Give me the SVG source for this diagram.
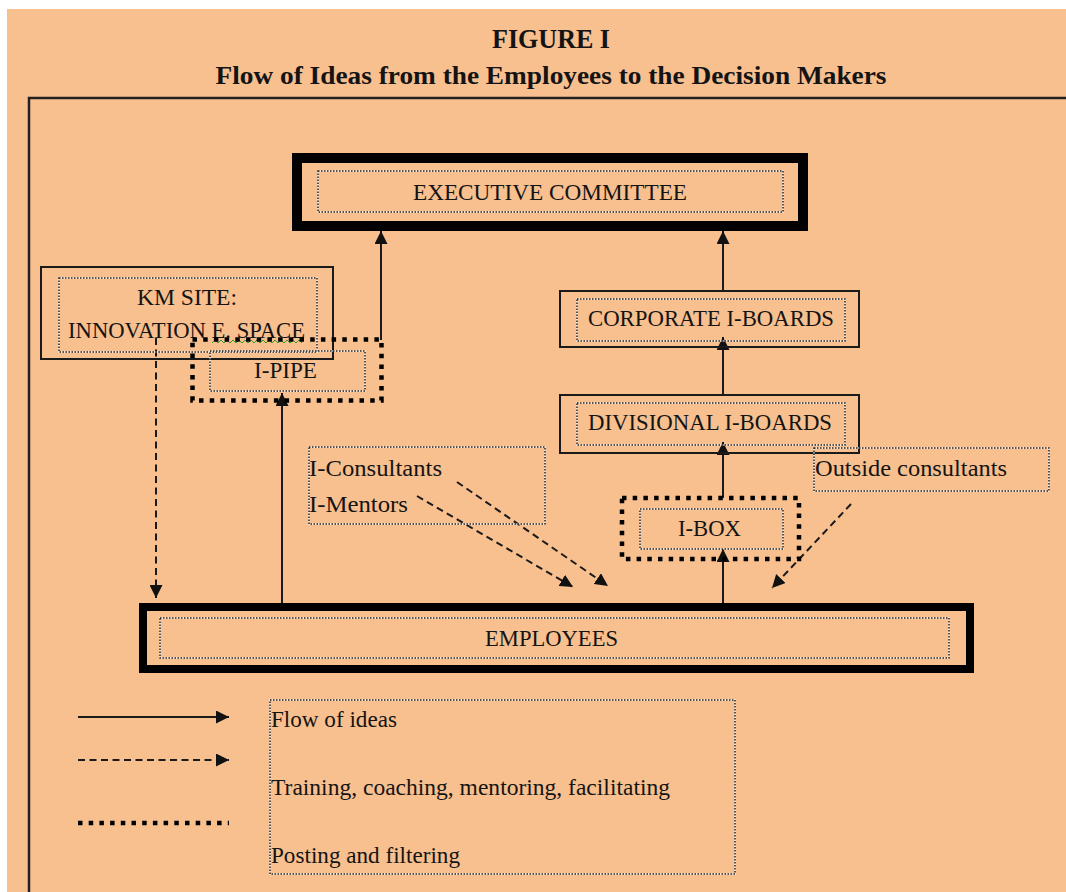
<svg xmlns="http://www.w3.org/2000/svg" width="1066" height="892" viewBox="0 0 1066 892">
<defs>
<marker id="ah" viewBox="0 0 12 12" refX="12" refY="6" markerWidth="13" markerHeight="13" orient="auto" markerUnits="userSpaceOnUse"><path d="M0,0 L12,6 L0,12 z" fill="#111"/></marker>
<style>
text{font-family:"Liberation Serif","Times New Roman",serif;fill:#141414;}
.t{font-size:23px;}
.title{font-weight:bold;}
.box{fill:none;stroke:#1a1a1a;stroke-width:2;}
.thick{fill:none;stroke:#000;}
.dotw{fill:none;stroke:#fff;stroke-width:1.5;opacity:0.7;}
.dot{fill:none;stroke:#222;stroke-width:1.5;stroke-dasharray:1.5 1.5;}
.post{fill:none;stroke:#000;stroke-width:4.5;stroke-dasharray:4.5 6.2;}
.flow{fill:none;stroke:#1a1a1a;stroke-width:2;}
.train{fill:none;stroke:#1a1a1a;stroke-width:2;stroke-dasharray:7 4.5;}
</style>
</defs>
<rect x="0" y="0" width="1066" height="892" fill="#fff"/>
<rect x="7" y="9" width="1059" height="883" fill="#F8BF8F"/>
<path d="M29,892 V98 H1066" fill="none" stroke="#222" stroke-width="2.5"/>

<g id="title">
<text class="title" x="551" y="48" font-size="27" text-anchor="middle" textLength="118" lengthAdjust="spacingAndGlyphs">FIGURE I</text>
<text class="title" x="551" y="84" font-size="26" text-anchor="middle" textLength="671" lengthAdjust="spacingAndGlyphs">Flow of Ideas from the Employees to the Decision Makers</text>
</g>

<g id="connectors">
<line class="flow" x1="381" y1="340" x2="381" y2="231" marker-end="url(#ah)"/>
<line class="flow" x1="723" y1="291" x2="723" y2="231" marker-end="url(#ah)"/>
<line class="flow" x1="723" y1="395" x2="723" y2="337" marker-end="url(#ah)"/>
<line class="flow" x1="723" y1="498" x2="723" y2="442" marker-end="url(#ah)"/>
<line class="flow" x1="723" y1="604" x2="723" y2="549" marker-end="url(#ah)"/>
<line class="flow" x1="282" y1="604" x2="282" y2="393" marker-end="url(#ah)"/>
<line class="train" x1="156" y1="338" x2="156" y2="598" marker-end="url(#ah)"/>
<line class="train" x1="417" y1="496" x2="573" y2="587" marker-end="url(#ah)"/>
<line class="train" x1="457" y1="482" x2="608" y2="586" marker-end="url(#ah)"/>
<line class="train" x1="851" y1="504" x2="772" y2="588" marker-end="url(#ah)"/>
</g>

<g id="executive-committee">
<rect class="thick" x="297" y="158" width="506" height="68" stroke-width="10"/>
<rect class="dotw" x="318" y="171" width="465" height="41"/>
<rect class="dot" x="318" y="171" width="465" height="41"/>
<text class="t" x="413" y="200" textLength="274" lengthAdjust="spacingAndGlyphs">EXECUTIVE COMMITTEE</text>
</g>

<g id="km-site">
<rect class="box" x="41" y="267" width="292" height="92"/>
<rect class="dotw" x="59" y="278" width="258" height="74"/>
<rect class="dot" x="59" y="278" width="258" height="74"/>
<text class="t" x="187" y="305" text-anchor="middle" textLength="100" lengthAdjust="spacingAndGlyphs">KM SITE:</text>
<text class="t" x="68" y="338" textLength="237" lengthAdjust="spacingAndGlyphs">INNOVATION E. SPACE</text>
<polyline points="212,343 215,340 218,343 221,340 224,343 227,340 230,343 233,340 236,343 239,340 242,343 245,340 248,343 251,340 254,343 257,340 260,343 263,340 266,343 269,340 272,343 275,340 278,343 281,340 284,343 287,340 290,343 293,340 296,343 299,340 302,343" fill="none" stroke="#3a9a2a" stroke-width="1"/>
</g>

<g id="i-pipe">
<rect class="post" x="192.5" y="339.5" width="189" height="61"/>
<rect class="dotw" x="210" y="351" width="155" height="40"/>
<rect class="dot" x="210" y="351" width="155" height="40"/>
<text class="t" x="254" y="378" textLength="63" lengthAdjust="spacingAndGlyphs">I-PIPE</text>
</g>

<g id="corporate-i-boards">
<rect class="box" x="560" y="291" width="299" height="56"/>
<rect class="dotw" x="577" y="299" width="268" height="42"/>
<rect class="dot" x="577" y="299" width="268" height="42"/>
<text class="t" x="588" y="326" textLength="246" lengthAdjust="spacingAndGlyphs">CORPORATE I-BOARDS</text>
</g>

<g id="divisional-i-boards">
<rect class="box" x="560" y="395" width="299" height="58"/>
<rect class="dotw" x="577" y="403" width="268" height="42"/>
<rect class="dot" x="577" y="403" width="268" height="42"/>
<text class="t" x="588" y="430" textLength="244" lengthAdjust="spacingAndGlyphs">DIVISIONAL I-BOARDS</text>
</g>

<g id="i-consultants">
<rect class="dotw" x="309" y="447" width="236" height="77"/>
<rect class="dot" x="309" y="447" width="236" height="77"/>
<text class="t" x="309" y="476" textLength="133" lengthAdjust="spacingAndGlyphs">I-Consultants</text>
<text class="t" x="309" y="512" textLength="99" lengthAdjust="spacingAndGlyphs">I-Mentors</text>
</g>

<g id="outside-consultants">
<rect class="dotw" x="814" y="448" width="235" height="43"/>
<rect class="dot" x="814" y="448" width="235" height="43"/>
<text class="t" x="815" y="476" textLength="192" lengthAdjust="spacingAndGlyphs">Outside consultants</text>
</g>

<g id="i-box">
<rect class="post" x="622" y="498" width="177" height="61"/>
<rect class="dotw" x="640" y="509" width="143" height="40"/>
<rect class="dot" x="640" y="509" width="143" height="40"/>
<text class="t" x="678" y="536" textLength="63" lengthAdjust="spacingAndGlyphs">I-BOX</text>
</g>

<g id="employees">
<rect class="thick" x="143" y="607" width="827" height="62" stroke-width="8"/>
<rect class="dotw" x="160" y="618" width="789" height="40"/>
<rect class="dot" x="160" y="618" width="789" height="40"/>
<text class="t" x="485" y="646" textLength="133" lengthAdjust="spacingAndGlyphs">EMPLOYEES</text>
</g>

<g id="legend">
<line class="flow" x1="78" y1="717" x2="229" y2="717" marker-end="url(#ah)"/>
<line class="train" x1="78" y1="760" x2="229" y2="760" marker-end="url(#ah)"/>
<line class="post" x1="78" y1="823" x2="229" y2="823"/>
<rect class="dotw" x="270" y="700" width="465" height="174"/>
<rect class="dot" x="270" y="700" width="465" height="174"/>
<text class="t" x="271" y="727" textLength="126" lengthAdjust="spacingAndGlyphs">Flow of ideas</text>
<text class="t" x="271" y="795" textLength="399" lengthAdjust="spacingAndGlyphs">Training, coaching, mentoring, facilitating</text>
<text class="t" x="271" y="863" textLength="189" lengthAdjust="spacingAndGlyphs">Posting and filtering</text>
</g>
</svg>
